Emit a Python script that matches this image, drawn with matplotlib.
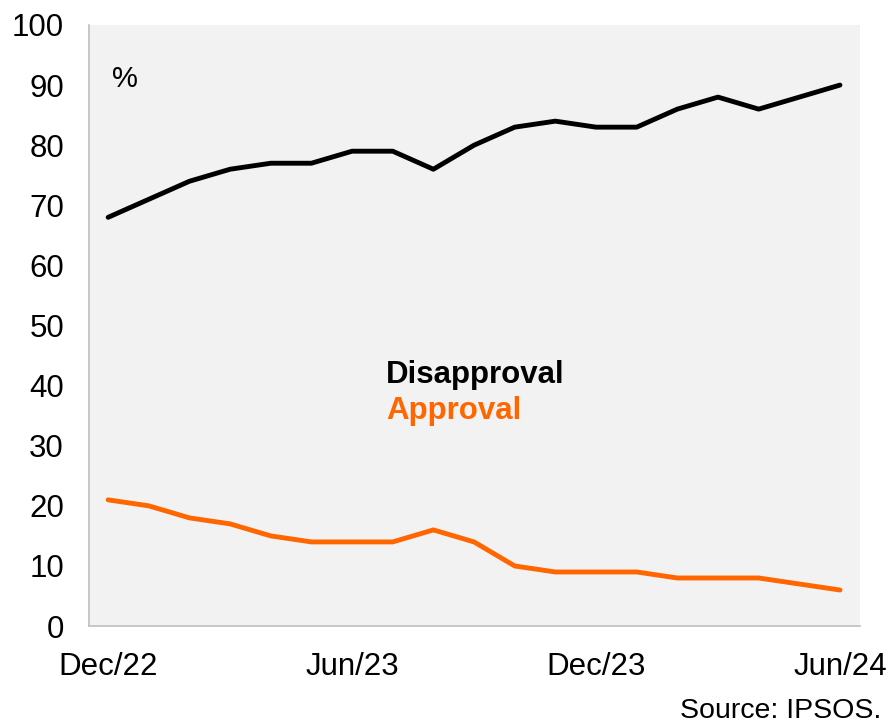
import matplotlib
matplotlib.use("Agg")
import matplotlib.pyplot as plt
import numpy as np

plt.rcParams['font.family'] = ['Liberation Sans', 'DejaVu Sans']

months = ["Dec/22", "Jan/23", "Feb/23", "Mar/23", "Apr/23", "May/23", "Jun/23",
          "Jul/23", "Aug/23", "Sep/23", "Oct/23", "Nov/23", "Dec/23", "Jan/24",
          "Feb/24", "Mar/24", "Apr/24", "May/24", "Jun/24"]
disapproval = [68, 71, 74, 76, 77, 77, 79, 79, 76, 80, 83, 84, 83, 83, 86, 88, 86, 88, 90]
approval = [21, 20, 18, 17, 15, 14, 14, 14, 16, 14, 10, 9, 9, 9, 8, 8, 8, 7, 6]
tick_labels = ["Dec/22", "Jun/23", "Dec/23", "Jun/24"]

x = np.arange(len(months))

fig = plt.figure(figsize=(8.92, 7.28), dpi=100)
ax = fig.add_axes([0.0998, 0.140, 0.8642, 0.8257])
ax.set_facecolor("#f2f2f2")

ax.plot(x, disapproval, color="black", lw=3.5, solid_capstyle="round", solid_joinstyle="round")
ax.plot(x, approval, color="#ff6600", lw=3.5, solid_capstyle="round", solid_joinstyle="round")

ax.set_xlim(-0.47, 18.49)
ax.set_ylim(0, 100)
ax.set_yticks(range(0, 101, 10))
ax.set_xticks([months.index(t) for t in tick_labels])
ax.set_xticklabels(tick_labels)
ax.tick_params(axis="both", length=0, labelsize=22.5, colors="black")
ax.tick_params(axis="x", pad=19)
ax.tick_params(axis="y", pad=18)

for s in ("top", "right"):
    ax.spines[s].set_visible(False)
for s in ("left", "bottom"):
    ax.spines[s].set_color("#bfbfbf")
    ax.spines[s].set_linewidth(1.2)

ax.text(0.03, 0.91, "%", transform=ax.transAxes, fontsize=21, ha="left", va="center")
ax.text(0.385, 0.418, "Disapproval", transform=ax.transAxes, fontsize=22.5,
        fontweight="bold", color="black", ha="left", va="center")
ax.text(0.385, 0.358, "Approval", transform=ax.transAxes, fontsize=22.5,
        fontweight="bold", color="#ff6600", ha="left", va="center")

fig.text(0.988, 0.006, "Source: IPSOS.", fontsize=20.5, ha="right", va="bottom")

fig.savefig("out.png", dpi=100)
